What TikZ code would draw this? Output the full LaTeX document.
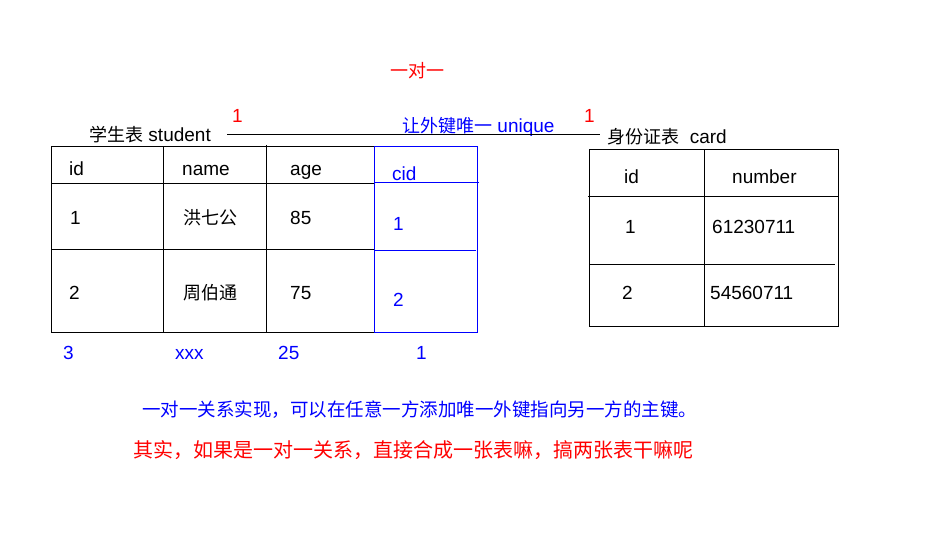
\documentclass[tikz,border=0pt]{standalone}
\usepackage{fontspec}
\setmainfont{Liberation Sans}
\newfontfamily\cjk{Noto Sans CJK SC}
\newcommand{\cjkb}[1]{{\cjk\fontsize{18}{20}\selectfont #1}}
\begin{document}
\begin{tikzpicture}[x=1pt,y=-1pt,
  txt/.style={anchor=base west,inner sep=0pt,font=\fontsize{19}{21}\selectfont},
  bl/.style={txt,text=blue},
  rd/.style={txt,text=red},
  ln/.style={line width=1pt},
  bln/.style={line width=1pt,draw=blue}]
\useasboundingbox[fill=white] (0,0) rectangle (951,540);
% header texts
\node[rd] (title) at (390,78) {\cjkb{一对一}};
\node[txt] (stitle) at (89,142) {\cjkb{学生表} student};
\node[txt] (ctitle) at (607,144) {\cjkb{身份证表}\ \ card};
\node[rd] (one1) at (232,123) {1};
\node[rd] (one2) at (584,123) {1};
\node[bl] (uniq) at (402,133) {\cjkb{让外键唯一} unique};
\coordinate (la) at (227,135);
\coordinate (lb) at (600,135);
\draw[ln] (la) -- (lb);
% student table
\draw[ln] (51,147) -- (374,147);
\draw[ln] (51,147) -- (51,332) -- (374,332);
\draw[ln] (163,147) -- (163,332);
\draw[ln] (266,145) -- (266,332);
\draw[ln] (51,184) -- (374,184);
\draw[ln] (51,250) -- (374,250);
\draw[bln] (374,147) rectangle (477,332);
\draw[bln] (374,183) -- (479,183);
\draw[bln] (374,251) -- (476,251);
\node[txt] (h1) at (69,176) {id};
\node[txt] (h2) at (182,176) {name};
\node[txt] (h3) at (290,176) {age};
\node[bl] (h4) at (392,181) {cid};
\node[txt] (a1) at (70,225) {1};
\node[txt] (a2) at (183,225) {\cjkb{洪七公}};
\node[txt] (a3) at (290,225) {85};
\node[bl] (a4) at (393,231) {1};
\node[txt] (b1) at (69,300) {2};
\node[txt] (b2) at (183,300) {\cjkb{周伯通}};
\node[txt] (b3) at (290,300) {75};
\node[bl] (b4) at (393,306) {2};
\node[bl] (c1) at (63,359) {3};
\node[bl] (c2) at (175,359) {xxx};
\node[bl] (c3) at (278,359) {25};
\node[bl] (c4) at (416,359) {1};
% card table
\draw[ln] (589,150) rectangle (838,326);
\draw[ln] (704,150) -- (704,326);
\draw[ln] (588,197) -- (839,197);
\draw[ln] (589,265) -- (835,265);
\node[txt] (d1) at (624,184) {id};
\node[txt] (d2) at (732,184) {number};
\node[txt] (e1) at (625,234) {1};
\node[txt] (e2) at (712,234) {61230711};
\node[txt] (f1) at (622,299) {2};
\node[txt] (f2) at (710,299) {54560711};
% notes
\node[bl,font=\fontsize{18.5}{20}\selectfont] (note1) at (142,416) {\cjk 一对一关系实现，可以在任意一方添加唯一外键指向另一方的主键。};
\node[rd,font=\fontsize{20}{22}\selectfont] (note2) at (133,457) {\cjk 其实，如果是一对一关系，直接合成一张表嘛，搞两张表干嘛呢};
\end{tikzpicture}
\end{document}
